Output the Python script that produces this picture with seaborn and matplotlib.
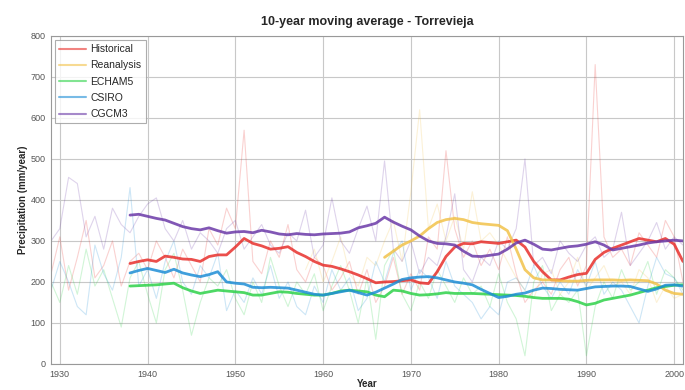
import numpy as np
import pandas as pd
import matplotlib
matplotlib.use('Agg')
import matplotlib.pyplot as plt
import seaborn as sns

# annual series 1929-2001
years = list(range(1929, 2002))
hist_annual = [220, 310, 180, 260, 350, 210, 240, 300, 190, 250, 270, 230, 300, 260, 210, 280, 240, 200, 330, 290,
               380, 330, 570, 250, 220, 300, 260, 340, 230, 200, 260, 240, 180, 210, 250, 170, 230, 150, 190, 260,
               170, 220, 180, 310, 280, 520, 330, 260, 300, 240, 280, 230, 310, 220, 150, 180, 200, 170, 230, 260,
               190, 240, 730, 310, 260, 280, 240, 320, 290, 260, 350, 310, 200]
echam_annual = [200, 150, 240, 170, 280, 190, 230, 160, 90, 210, 250, 170, 100, 230, 270, 180, 70, 150, 210, 190,
                230, 160, 120, 200, 150, 260, 190, 140, 200, 170, 220, 130, 190, 240, 180, 100, 210, 60, 240, 280,
                170, 130, 200, 160, 230, 190, 150, 210, 170, 190, 140, 220, 150, 110, 20, 200, 240, 130, 170, 150,
                180, 20, 140, 200, 160, 230, 180, 200, 250, 170, 230, 210, 180]
csiro_annual = [180, 250, 200, 140, 120, 290, 220, 180, 260, 430, 190, 230, 160, 250, 300, 200, 170, 240, 210, 270,
                130, 180, 150, 210, 170, 240, 160, 200, 140, 120, 190, 150, 230, 180, 210, 130, 160, 250, 200, 270,
                300, 180, 230, 210, 160, 250, 190, 170, 150, 110, 140, 120, 200, 210, 180, 240, 190, 160, 200, 170,
                230, 190, 250, 170, 200, 180, 140, 100, 190, 260, 220, 210, 170]
cgcm_annual = [300, 330, 455, 440, 310, 360, 280, 380, 340, 320, 360, 390, 405, 330, 300, 350, 280, 320, 300, 270,
               330, 350, 280, 310, 340, 290, 270, 320, 300, 375, 260, 290, 405, 300, 270, 330, 385, 300, 495, 280,
               250, 300, 220, 260, 240, 310, 415, 230, 200, 260, 240, 300, 280, 330, 500, 240, 260, 220, 300, 270,
               250, 290, 310, 260, 280, 370, 240, 270, 300, 345, 280, 310, 290]

# reanalysis annual 1958-2001
rea_years = list(range(1958, 2002))
rea_annual = [230, 280, 200, 250, 310, 220, 190, 260, 240, 300, 350, 250, 420, 620, 330, 390, 300, 360, 280, 420,
              300, 320, 290, 250, 210, 180, 160, 220, 230, 170, 200, 260, 180, 210, 240, 190, 200, 170, 230, 210,
              150, 190, 160, 170]

# 10-year moving averages 1938-2001
ma_years = list(range(1938, 2002))
hist_ma = [245, 250, 254, 250, 263, 260, 256, 255, 250, 262, 266, 266, 285, 306, 294, 288, 280, 282, 286, 272,
           262, 250, 241, 238, 232, 225, 217, 208, 198, 200, 201, 203, 205, 198, 196, 225, 262, 285, 294, 293,
           298, 296, 294, 298, 302, 285, 250, 225, 205, 205, 212, 218, 221, 255, 272, 282, 290, 298, 306, 302,
           298, 306, 292, 250]
echam_ma = [190, 191, 192, 193, 195, 197, 186, 178, 172, 176, 180, 178, 176, 174, 168, 168, 172, 176, 175, 172,
            170, 168, 168, 172, 178, 180, 178, 176, 168, 164, 180, 178, 172, 168, 169, 171, 174, 172, 172, 172,
            171, 170, 169, 168, 167, 165, 162, 160, 160, 160, 158, 152, 144, 148, 156, 160, 164, 168, 174, 180,
            186, 189, 192, 193]
csiro_ma = [222, 228, 233, 228, 223, 231, 222, 217, 213, 218, 225, 200, 197, 195, 187, 186, 187, 186, 185, 180,
            175, 170, 168, 172, 176, 180, 174, 168, 175, 185, 195, 206, 210, 212, 213, 210, 205, 200, 197, 193,
            182, 172, 162, 165, 170, 173, 180, 185, 184, 182, 181, 180, 184, 188, 189, 190, 190, 189, 183, 177,
            183, 192, 193, 190]
cgcm_ma = [363, 365, 360, 355, 351, 343, 335, 330, 327, 332, 325, 319, 322, 323, 320, 326, 322, 317, 315, 318,
           316, 315, 317, 318, 319, 322, 332, 337, 343, 358, 346, 336, 327, 312, 300, 294, 293, 290, 275, 263,
           262, 265, 268, 280, 295, 302, 292, 280, 278, 282, 286, 288, 292, 298, 290, 278, 282, 286, 290, 295,
           298, 300, 302, 300]
rea_ma_years = list(range(1967, 2002))
rea_ma = [260, 275, 290, 300, 312, 330, 345, 352, 355, 352, 345, 342, 340, 338, 325, 280, 230, 210, 205, 205,
          203, 202, 202, 204, 205, 205, 205, 204, 205, 204, 203, 195, 180, 172, 170]

labels = ['Historical', 'Reanalysis', 'ECHAM5', 'CSIRO', 'CGCM3']
colors = ['#e8302c', '#f2c24a', '#2fd24a', '#1e8ed6', '#6b3aa8']

sns.set_theme(style='whitegrid')
plt.rcParams['font.family'] = ['Liberation Sans', 'DejaVu Sans']

fig = plt.figure(figsize=(6.85, 3.9), dpi=100)
ax = fig.add_axes([0.0745, 0.0667, 0.9225, 0.8413])

annual = [(years, hist_annual), (rea_years, rea_annual), (years, echam_annual),
          (years, csiro_annual), (years, cgcm_annual)]
moving = [(ma_years, hist_ma), (rea_ma_years, rea_ma), (ma_years, echam_ma),
          (ma_years, csiro_ma), (ma_years, cgcm_ma)]

# faint annual lines
for (x, y), c in zip(annual, colors):
    sns.lineplot(x=x, y=y, color=c, alpha=0.22, linewidth=0.8, ax=ax)

# thick moving averages
for (x, y), c, lab in zip(moving, colors, labels):
    sns.lineplot(x=x, y=y, color=c, linewidth=2.0, alpha=0.85, label=lab, ax=ax)

ax.set_xlim(1929, 2001)
ax.set_ylim(0, 800)
ax.set_xticks(range(1930, 2001, 10))
ax.set_yticks(range(0, 801, 100))
ax.tick_params(labelsize=6.5, colors='#555555', length=2, pad=2)
ax.grid(True, color='#c8c8c8', linewidth=0.8)
for s in ax.spines.values():
    s.set_color('#999999')
    s.set_linewidth(0.8)

ax.set_title('10-year moving average - Torrevieja', fontsize=9, fontweight='bold', pad=8)
ax.set_xlabel('Year', fontsize=7, fontweight='bold', labelpad=0)
ax.set_ylabel('Precipitation (mm/year)', fontsize=7, fontweight='bold', labelpad=2)

leg = ax.legend(loc='upper left', fontsize=7.5, frameon=True, fancybox=False,
                borderpad=0.4, labelspacing=0.6, handlelength=2.6, handletextpad=0.4,
                borderaxespad=0.4)
leg.get_frame().set_edgecolor('#999999')
leg.get_frame().set_linewidth(0.8)
for line in leg.get_lines():
    line.set_linewidth(1.5)
    line.set_alpha(0.6)

fig.savefig('out.png', dpi=100)
